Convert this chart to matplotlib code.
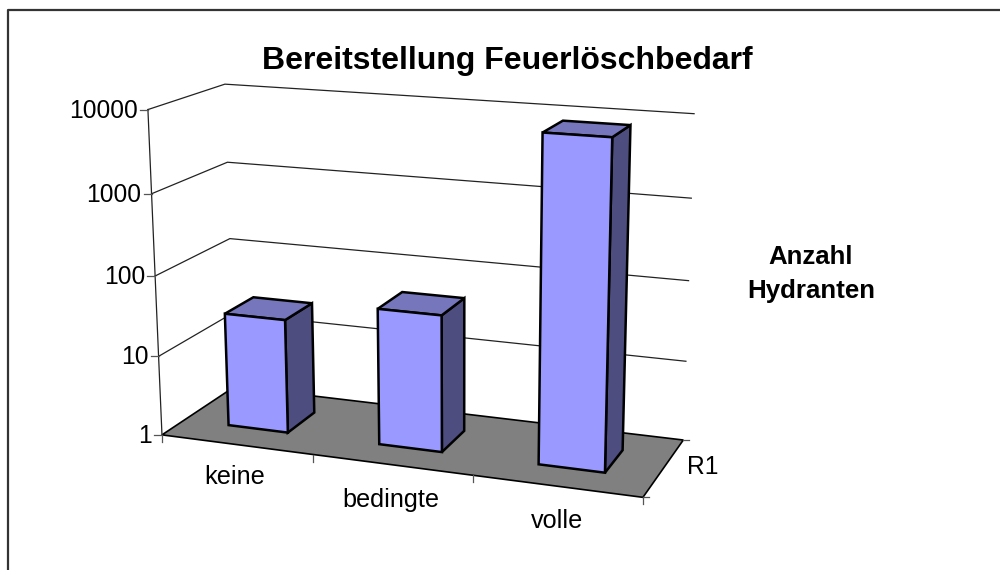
import numpy as np
import matplotlib
matplotlib.use('Agg')
import matplotlib.pyplot as plt
from matplotlib.patches import Polygon

plt.rcParams['font.family'] = ['Liberation Sans', 'DejaVu Sans']

# data
categories = ['keine', 'bedingte', 'volle']
hydranten = [27, 49, 8500]
y_ticks = [1, 10, 100, 1000, 10000]
series_name = 'R1'
legend_name = 'Anzahl\nHydranten'
title = 'Bereitstellung Feuerlöschbedarf'

# box corners on screen, (x, depth, decades) -> pixel, used to fit the 3d view
anchors = [
    ((0, 0, 0), (161, 431)), ((1, 0, 0), (644, 499)),
    ((0, 1, 0), (235, 392)), ((1, 1, 0), (683, 440)),
    ((0, 0, 1), (158, 353)), ((0, 1, 1), (233, 316)), ((1, 1, 1), (685, 359)),
    ((0, 0, 2), (155, 275)), ((0, 1, 2), (231, 238)), ((1, 1, 2), (688, 280)),
    ((0, 0, 3), (151, 194)), ((0, 1, 3), (229, 161)), ((1, 1, 3), (691, 198)),
    ((0, 0, 4), (147, 111)), ((0, 1, 4), (224, 84)), ((1, 1, 4), (693, 110)),
    ((1, 0, 4), (655, 150)),
]


def fit_view(anchors):
    # plain DLT, last matrix entry fixed to 1
    A = []
    b = []
    for (x, d, v), (px, py) in anchors:
        A.append([x, d, v, 1, 0, 0, 0, 0, -px * x, -px * d, -px * v])
        A.append([0, 0, 0, 0, x, d, v, 1, -py * x, -py * d, -py * v])
        b += [px, py]
    m = np.linalg.lstsq(np.array(A, float), np.array(b, float), rcond=None)[0]
    return np.append(m, 1).reshape(3, 4)


view = fit_view(anchors)


def proj(x, d, value):
    p = view @ np.array([x, d, np.log10(value), 1.0])
    return p[0] / p[2], p[1] / p[2]


fig = plt.figure(figsize=(10, 5.7), dpi=100)
ax = fig.add_axes([0, 0, 1, 1])
ax.set_xlim(0, 1000)
ax.set_ylim(570, 0)
ax.axis('off')

# chart frame, only left and top are inside the picture
ax.plot([8, 8, 1000], [570, 10, 10], color='#333333', lw=1.6, zorder=1)

# floor
floor = [proj(0, 0, 1), proj(1, 0, 1), proj(1, 1, 1), proj(0, 1, 1)]
ax.add_patch(Polygon(floor, closed=True, fc='#808080', ec='black', lw=1.2, zorder=2))

# gridlines on the walls
for t in y_ticks[1:]:
    pts = [proj(0, 0, t), proj(0, 1, t), proj(1, 1, t)]
    ax.plot(*zip(*pts), color='#222222', lw=0.9, zorder=2)

# value axis and labels
ax.plot(*zip(proj(0, 0, y_ticks[0]), proj(0, 0, y_ticks[-1])), color='#222222', lw=0.9, zorder=2)
for t in y_ticks:
    px, py = proj(0, 0, t)
    ax.plot([px - 8, px], [py, py], color='#555555', lw=0.9, zorder=2)
    ax.text(px - 10, py + 1, str(t), ha='right', va='center', fontsize=17.7, color='black')

# category ticks and labels
n = len(categories)
for i in range(n + 1):
    px, py = proj(i / n, 0, 1)
    ax.plot([px, px], [py, py + 7], color='#555555', lw=0.9, zorder=2)
label_pos = [(235, 477), (391, 500), (557, 521)]
for name, (lx, ly) in zip(categories, label_pos):
    ax.text(lx, ly, name, ha='center', va='center', fontsize=18.2)

# series tick and label
for d in (0, 1):
    px, py = proj(1, d, 1)
    ax.plot([px, px + 6], [py, py], color='#555555', lw=0.9, zorder=2)
ax.text(703, 467, series_name, ha='center', va='center', fontsize=17.7)

# bars
bar_w = 0.4 / n
d0, d1 = 0.3, 0.7
for i, val in enumerate(hydranten):
    x0 = (i + 0.5) / n - bar_w / 2
    x1 = (i + 0.5) / n + bar_w / 2
    front = [proj(x0, d0, 1), proj(x1, d0, 1), proj(x1, d0, val), proj(x0, d0, val)]
    side = [proj(x1, d0, 1), proj(x1, d1, 1), proj(x1, d1, val), proj(x1, d0, val)]
    top = [proj(x0, d0, val), proj(x1, d0, val), proj(x1, d1, val), proj(x0, d1, val)]
    for poly, col in ((side, '#4D4D80'), (top, '#7676BD'), (front, '#9999FF')):
        ax.add_patch(Polygon(poly, closed=True, fc=col, ec='black', lw=1.8,
                             joinstyle='miter', zorder=3))

ax.text(507, 61, title, ha='center', va='center', fontsize=23, fontweight='bold')
ax.text(811, 274, legend_name, ha='center', va='center', fontsize=18.6, fontweight='bold',
        linespacing=1.5)

fig.savefig('out.png', dpi=100)
